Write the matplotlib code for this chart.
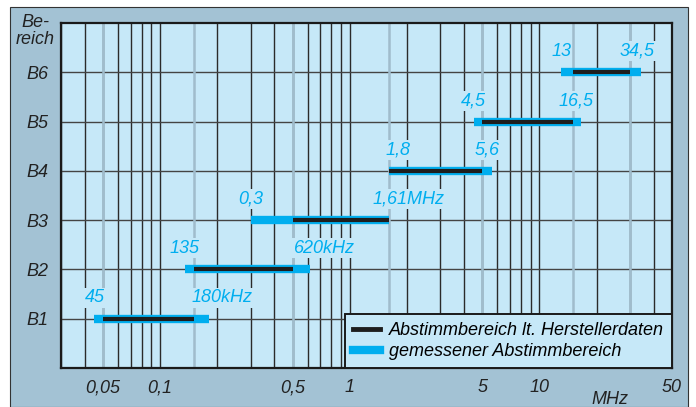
import matplotlib
matplotlib.use('Agg')
import matplotlib.pyplot as plt
from matplotlib.patches import Rectangle
from matplotlib.lines import Line2D
import numpy as np

# Bereiche und Frequenzen (MHz)
bands = ['B1', 'B2', 'B3', 'B4', 'B5', 'B6']
spec_lo = [0.05, 0.15, 0.5, 1.6, 5, 15]      # Herstellerdaten
spec_hi = [0.15, 0.5, 1.6, 5, 15, 30]
meas_lo = [0.045, 0.135, 0.3, 1.8, 4.5, 13]  # gemessen
meas_hi = [0.18, 0.62, 1.61, 5.6, 16.5, 34.5]
lo_labels = ['45', '135', '0,3', '1,8', '4,5', '13']
hi_labels = ['180kHz', '620kHz', '1,61MHz', '5,6', '16,5', '34,5']
xtick_vals = [0.05, 0.1, 0.5, 1, 5, 10, 50]
xtick_labels = ['0,05', '0,1', '0,5', '1', '5', '10', '50']

panel = '#a3c2d4'
plot_bg = '#c6e8f8'
blue = '#00aeef'
dark = '#1e1e1e'
fs = 13

plt.rcParams['font.family'] = ['Liberation Sans', 'DejaVu Sans']
plt.rcParams['font.style'] = 'italic'

fig = plt.figure(figsize=(6.96, 4.07), dpi=100, facecolor='white')
fig.patches.append(Rectangle((10 / 696, 0), 678 / 696, 1 - 7 / 407, transform=fig.transFigure,
                             facecolor=panel, edgecolor='#333333', linewidth=0.8, zorder=-10))

ax = fig.add_axes([61 / 696, 1 - 368 / 407, 611 / 696, 345 / 407])
ax.set_facecolor(plot_bg)
ax.set_xscale('log')
ax.set_xlim(0.03, 50)
ax.set_ylim(0, 7)

# Gitter
ax.set_xticks(xtick_vals)
ax.set_xticklabels(xtick_labels, fontsize=fs, color='#222222')
ax.xaxis.set_minor_locator(matplotlib.ticker.LogLocator(base=10, subs=np.arange(1, 10)))
ax.xaxis.set_minor_formatter(matplotlib.ticker.NullFormatter())
ax.set_yticks(range(1, 7))
ax.set_yticklabels(bands, fontsize=fs, color='#222222')
ax.tick_params(which='both', length=0)
ax.tick_params(axis='x', pad=8)
ax.tick_params(axis='y', pad=9)
ax.grid(which='both', axis='x', color='#2a2a2a', linewidth=1.0, zorder=1)
ax.grid(which='major', axis='y', color='#444444', linewidth=1.0, zorder=1)
ax.set_axisbelow(True)
for s in ax.spines.values():
    s.set_linewidth(1.6)
    s.set_color('#1a1a1a')

# Grenzen laut Hersteller als graue Linien
for v in sorted(set(spec_lo + spec_hi)):
    ax.axvline(v, color='#a0bccc', linewidth=1.8, zorder=1.5)

ypos = np.arange(1, len(bands) + 1)
for y, mlo, mhi, slo, shi, ll, hl in zip(ypos, meas_lo, meas_hi, spec_lo, spec_hi, lo_labels, hi_labels):
    ax.plot([min(mlo, slo), max(mhi, shi)], [y, y], color=blue, linewidth=6, solid_capstyle='butt', zorder=3)
    ax.plot([slo, shi], [y, y], color=dark, linewidth=3, solid_capstyle='butt', zorder=4)
    bb = dict(facecolor=plot_bg, edgecolor='none', pad=1.0)
    ax.annotate(ll, (mlo, y), xytext=(0, 9), textcoords='offset points', ha='center', va='bottom',
                fontsize=fs, color=blue, bbox=bb, zorder=5)
    if 'Hz' in hl:
        ax.annotate(hl, (mhi, y), xytext=(-12, 9), textcoords='offset points', ha='left', va='bottom',
                    fontsize=fs, color=blue, bbox=bb, zorder=5)
    else:
        ax.annotate(hl, (mhi, y), xytext=(-3, 9), textcoords='offset points', ha='center', va='bottom',
                    fontsize=fs, color=blue, bbox=bb, zorder=5)

handles = [Line2D([], [], color=dark, linewidth=3.5),
           Line2D([], [], color=blue, linewidth=6)]
leg = ax.legend(handles, ['Abstimmbereich lt. Herstellerdaten', 'gemessener Abstimmbereich'],
                loc='lower right', fontsize=fs, frameon=True, fancybox=False, framealpha=1,
                facecolor=plot_bg, edgecolor='#1a1a1a', handlelength=1.5, handletextpad=0.5,
                borderpad=0.45, labelspacing=0.2, borderaxespad=0)
leg.get_frame().set_linewidth(1.4)
leg.set_zorder(6)

fig.text(35 / 696, 1 - 31 / 407, 'Be-\nreich', ha='center', va='center', fontsize=fs,
         color='#222222', linespacing=1.0)
fig.text(610 / 696, 1 - 399 / 407, 'MHz', ha='center', va='center', fontsize=fs, color='#222222')

fig.savefig('out.png', dpi=100)
